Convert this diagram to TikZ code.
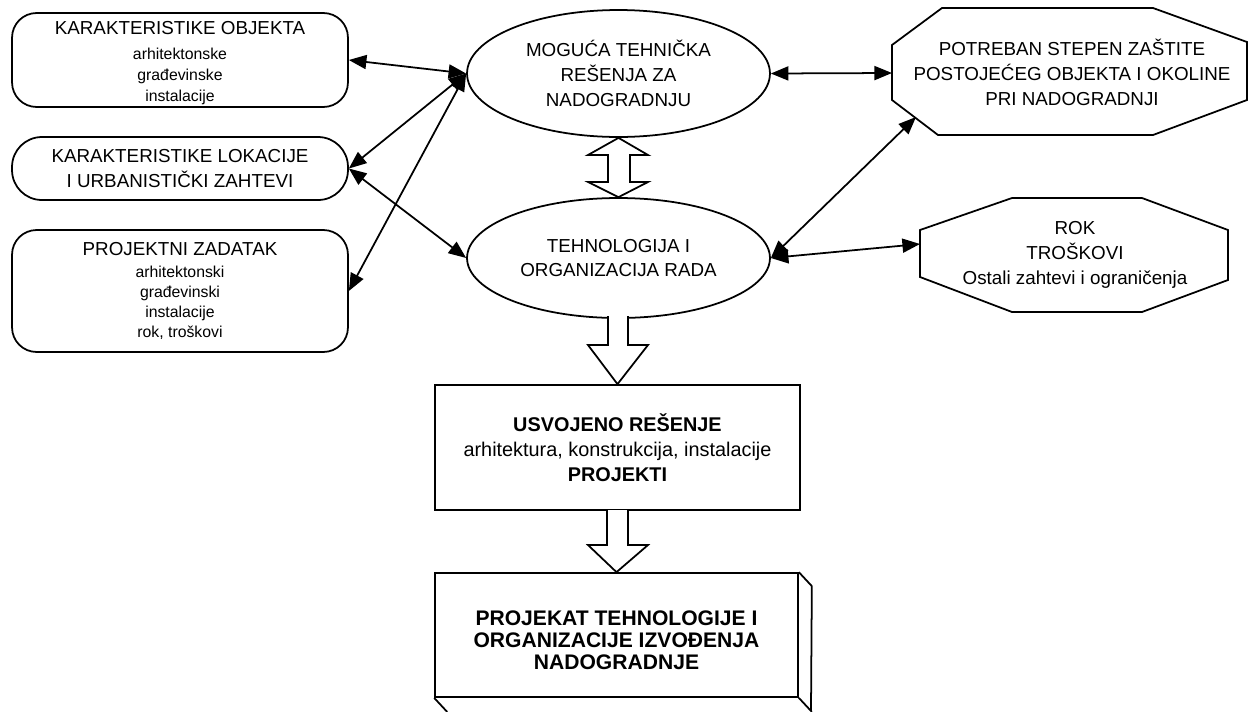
\documentclass[tikz,border=0pt]{standalone}
\usepackage{fontspec}
\setmainfont{Liberation Sans}
\usetikzlibrary{shapes.geometric,arrows.meta,calc}
\newcommand\capf{\fontsize{10.7}{14.2}\selectfont}
\newcommand\subf{\fontsize{9}{12}\selectfont}
\newcommand\subg{\fontsize{9}{11.3}\selectfont}
\newcommand\midf{\fontsize{11.3}{14.2}\selectfont}
\newcommand\botf{\fontsize{12}{12.6}\selectfont\bfseries}
\begin{document}
\begin{tikzpicture}[x=0.02cm,y=-0.02cm,
  ln/.style={line width=1pt,line join=miter},
  dbl/.style={line width=1pt,{Triangle[length=10pt,width=8pt]}-{Triangle[length=10pt,width=8pt]}},
  lbox/.style={draw,line width=1pt,rectangle,rounded corners=14pt,minimum width=6.72cm,inner sep=0pt},
  ell/.style={draw,line width=1pt,ellipse,minimum width=6.06cm,inner sep=0pt,align=center,font=\capf},
  cbox/.style={draw,line width=1pt,rectangle,inner sep=0pt,align=center},
  txt/.style={align=center,inner sep=0pt},
  blk/.style={line width=1pt,fill=white,line join=miter}
]
\useasboundingbox (0,0) rectangle (1249,711);

% left boxes
\node[lbox,minimum height=1.88cm] (b1) at (180,60) {};
\node[txt,font=\subf] (b1t) at (180,63) {{\capf KARAKTERISTIKE OBJEKTA}\\[2pt] arhitektonske\\ građevinske\\ instalacije};
\node[lbox,minimum height=1.26cm,rounded corners=17pt,align=center,font=\capf] (b2) at (180,168.5) {KARAKTERISTIKE LOKACIJE\\ I URBANISTIČKI ZAHTEVI};
\node[lbox,minimum height=2.44cm] (b3) at (180,291) {};
\node[txt,font=\subg] (b3t) at (180,291) {{\capf PROJEKTNI ZADATAK}\\[1pt] arhitektonski\\ građevinski\\ instalacije\\ rok, troškovi};

% ellipses
\node[ell,minimum height=2.54cm] (e1) at (618.5,73.5) {MOGUĆA TEHNIČKA\\ REŠENJA ZA\\ NADOGRADNJU};
\node[ell,minimum height=2.4cm] (e2) at (618.5,258) {TEHNOLOGIJA I\\ ORGANIZACIJA RADA};

% octagons
\draw[ln] (892,45)--(942,8)--(1153,8)--(1247,42)--(1247,100)--(1153,135)--(938,135)--(892,100)--cycle;
\node[txt,font=\capf] (o1) at (1072,72) {POTREBAN STEPEN ZAŠTITE\\ POSTOJEĆEG OBJEKTA I OKOLINE\\ PRI NADOGRADNJI};
\coordinate (o1w) at (892,73);
\coordinate (o1sw) at (916,117);
\draw[ln] (920,230)--(1012,198)--(1142,198)--(1228,230)--(1228,280)--(1142,312)--(1012,312)--(920,277)--cycle;
\node[txt,font=\capf] (o2) at (1075,255) {ROK\\ TROŠKOVI\\ Ostali zahtevi i ograničenja};
\coordinate (o2w) at (920,244);

% centre boxes
\node[cbox,minimum width=7.3cm,minimum height=2.5cm,font=\midf] (c1) at (617.5,447.5) {\textbf{USVOJENO REŠENJE}\\ arhitektura, konstrukcija, instalacije\\ \textbf{PROJEKTI}};
\node[cbox,minimum width=7.26cm,minimum height=2.48cm] (c2) at (616.5,635) {};
\node[txt,font=\botf] (c2t) at (616.5,640) {PROJEKAT TEHNOLOGIJE I\\ ORGANIZACIJE IZVOĐENJA\\ NADOGRADNJE};
\draw[ln] (c2.north east) -- ++(13,14) -- (811,711);
\draw[ln] (c2.south east) -- ++(13,14);
\draw[ln] (c2.south west) -- ++(13,14);

% connectors
\draw[dbl] (b1.east) -- (e1.west);
\draw[dbl] (b2.east) -- (e1.west);
\draw[dbl] (b2.east) -- (e2.west);
\draw[dbl] (b3.east) -- (e1.west);
\draw[dbl] (e1.east) -- (o1w);
\draw[dbl] (e2.east) -- (o1sw);
\draw[dbl] (e2.east) -- (o2w);

% block arrows
\draw[blk] (e1.south) -- (588,155) -- (608,155) -- (608,182) -- (588,182) -- (e2.north) -- (648,182) -- (630,182) -- (630,155) -- (648,155) -- cycle;
\draw[blk] (608,316) -- (608,345) -- (588,345) -- (c1.north) -- (648,345) -- (628,345) -- (628,316);
\draw[blk] (607,510) -- (607,545) -- (588,545) -- (c2.north) -- (648,545) -- (628,545) -- (628,510);
\end{tikzpicture}
\end{document}
